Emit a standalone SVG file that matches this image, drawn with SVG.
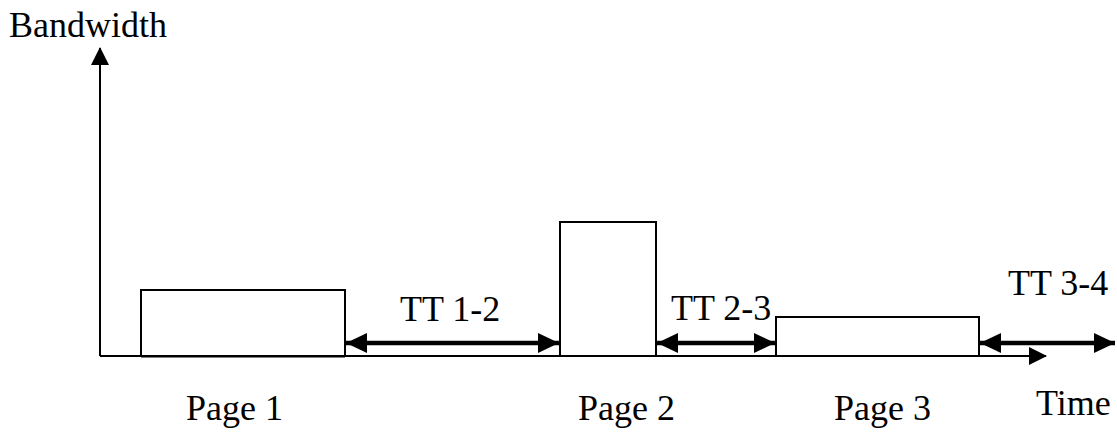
<svg xmlns="http://www.w3.org/2000/svg" width="1117" height="437" viewBox="0 0 1117 437">
  <style>
    .lbl { font-family: "Liberation Serif", "Times New Roman", serif; font-size: 36px; fill: #000; }
    .box { fill: #fff; stroke: #000; stroke-width: 2; }
    .axis { stroke: #000; stroke-width: 2; fill: none; }
    .span { stroke: #000; stroke-width: 4.5; fill: none; }
  </style>
  <defs>
    <marker id="axisHead" markerUnits="userSpaceOnUse" markerWidth="18" markerHeight="18" viewBox="0 0 18 18" refX="17" refY="9" orient="auto">
      <path d="M0,0 L18,9 L0,18 Z" fill="#000"/>
    </marker>
    <marker id="spanEnd" markerUnits="userSpaceOnUse" markerWidth="21" markerHeight="20" viewBox="0 0 21 20" refX="21" refY="10" orient="auto">
      <path d="M0,0 L21,10 L0,20 Z" fill="#000"/>
    </marker>
    <marker id="spanStart" markerUnits="userSpaceOnUse" markerWidth="21" markerHeight="20" viewBox="0 0 21 20" refX="0" refY="10" orient="auto">
      <path d="M21,0 L0,10 L21,20 Z" fill="#000"/>
    </marker>
  </defs>

  <!-- axes -->
  <g id="axes">
    <line class="axis" x1="100" y1="356" x2="100" y2="48" marker-end="url(#axisHead)"/>
    <line class="axis" x1="100" y1="356" x2="1046" y2="356" marker-end="url(#axisHead)"/>
    <text class="lbl" x="9" y="37">Bandwidth</text>
    <text class="lbl" x="1036" y="415">Time</text>
  </g>

  <!-- page transfers -->
  <g id="page1">
    <rect class="box" x="141" y="290" width="204" height="66"/>
    <line class="axis" x1="141" y1="356.5" x2="345" y2="356.5" stroke-width="3"/>
    <text class="lbl" x="186" y="420">Page 1</text>
  </g>
  <g id="page2">
    <rect class="box" x="560" y="222" width="96" height="134"/>
    <text class="lbl" x="578" y="420">Page 2</text>
  </g>
  <g id="page3">
    <rect class="box" x="776" y="317" width="203" height="39"/>
    <text class="lbl" x="834" y="420">Page 3</text>
  </g>

  <!-- think-time intervals -->
  <g id="connectors">
    <line class="span" x1="346" y1="343" x2="559" y2="343" marker-start="url(#spanStart)" marker-end="url(#spanEnd)"/>
    <line class="span" x1="657" y1="343" x2="775" y2="343" marker-start="url(#spanStart)" marker-end="url(#spanEnd)"/>
    <line class="span" x1="980" y1="343" x2="1115" y2="343" marker-start="url(#spanStart)" marker-end="url(#spanEnd)"/>
  </g>
  <g id="tt12"><text class="lbl" x="400" y="321">TT 1-2</text></g>
  <g id="tt23"><text class="lbl" x="671" y="320">TT 2-3</text></g>
  <g id="tt34"><text class="lbl" x="1008" y="295">TT 3-4</text></g>
</svg>
